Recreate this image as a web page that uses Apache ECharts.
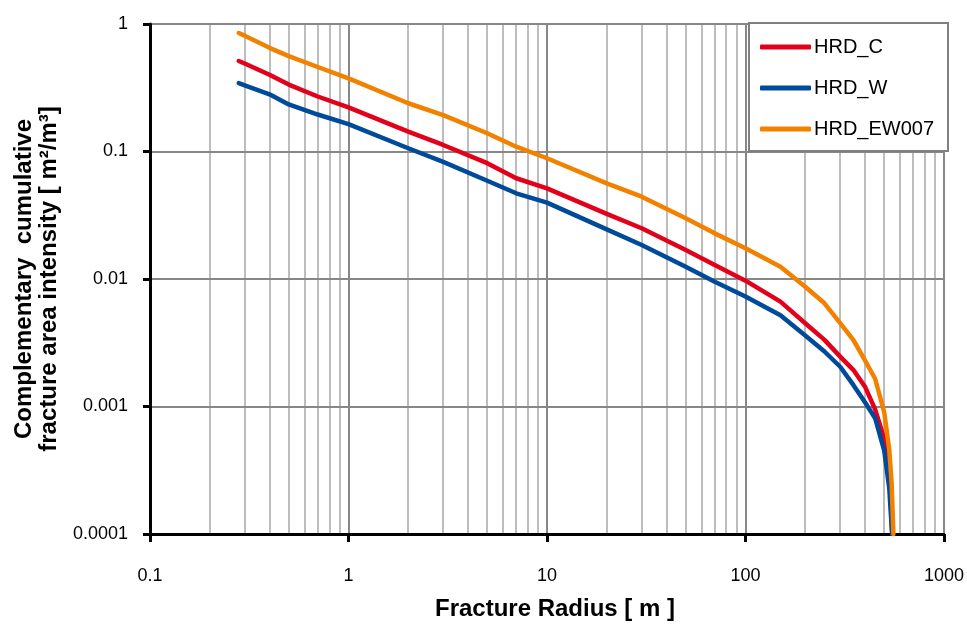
<!DOCTYPE html>
<html>
<head>
<meta charset="utf-8">
<title>Complementary cumulative fracture area intensity</title>
<script src="https://cdn.jsdelivr.net/npm/echarts@6/dist/echarts.min.js"></script>
<style>
  html, body { margin: 0; padding: 0; background: #ffffff; }
  #chart { width: 967px; height: 626px; }
</style>
</head>
<body>
<div id="chart"></div>
<script>
// Fracture radius [m] and complementary cumulative fracture area intensity [m2/m3]
const radiusC = [0.28, 0.3, 0.4, 0.5, 0.7, 1, 2, 3, 5, 7, 10, 20, 30, 50, 70, 100, 150, 200, 250, 300, 350, 400, 450, 500, 530, 549];
const intensityC = [0.513, 0.49, 0.40, 0.335, 0.27, 0.222, 0.143, 0.1125, 0.081, 0.0617, 0.0514, 0.0324, 0.025, 0.0169, 0.0129, 0.0097, 0.00664, 0.0045, 0.00333, 0.00246, 0.00193, 0.00143, 0.00095, 0.00056, 0.00032, 0.0001];

const radiusW = [0.28, 0.3, 0.4, 0.5, 0.7, 1, 2, 3, 5, 7, 10, 20, 30, 50, 70, 100, 150, 200, 250, 300, 350, 400, 450, 500, 530, 548];
const intensityW = [0.344, 0.33, 0.281, 0.234, 0.195, 0.164, 0.106, 0.083, 0.059, 0.047, 0.0397, 0.0245, 0.0185, 0.0125, 0.0095, 0.0073, 0.0052, 0.0036, 0.0027, 0.00205, 0.00147, 0.00108, 0.00081, 0.00045, 0.00023, 0.0001];

const radiusEW = [0.28, 0.3, 0.4, 0.5, 0.7, 1, 2, 3, 5, 7, 10, 20, 30, 50, 70, 100, 150, 200, 250, 300, 350, 400, 450, 500, 530, 545, 556];
const intensityEW = [0.85, 0.81, 0.65, 0.56, 0.46, 0.375, 0.239, 0.193, 0.139, 0.109, 0.0885, 0.0563, 0.0442, 0.0299, 0.0228, 0.0174, 0.0125, 0.0087, 0.00645, 0.0045, 0.00332, 0.0023, 0.00165, 0.0009, 0.00046, 0.00025, 0.0001];

const seriesNames = ['HRD_C', 'HRD_W', 'HRD_EW007'];
const seriesColors = ['#e3001b', '#004a9c', '#f28100'];

const xTickLabels = ['0.1', '1', '10', '100', '1000'];
const yTickLabels = ['0.0001', '0.001', '0.01', '0.1', '1'];

// light vertical grid lines between the decades
const minorGridRadius = [0.2, 0.3, 0.4, 0.5, 0.6, 0.7, 0.8, 0.9,
  2, 3, 4, 5, 6, 7, 8, 9,
  20, 30, 40, 50, 60, 70, 80, 90,
  200, 300, 400, 500, 600, 700, 800, 900];

const FONT = '"Liberation Sans", Arial, sans-serif';
const pairs = (xs, ys) => xs.map((x, i) => [x, ys[i]]);
const curves = [pairs(radiusC, intensityC), pairs(radiusW, intensityW), pairs(radiusEW, intensityEW)];

const chart = echarts.init(document.getElementById('chart'), null, { renderer: 'canvas' });

const lineSeries = seriesNames.map((name, i) => ({
  name: name,
  type: 'line',
  data: curves[i],
  z: 3,
  symbol: 'none',
  showSymbol: false,
  smooth: false,
  color: seriesColors[i],
  lineStyle: { color: seriesColors[i], width: 4.5, cap: 'round', join: 'round' }
}));

const axisLineStyle = { color: '#000000', width: 3 };
const majorGrid = { show: true, lineStyle: { color: '#878787', width: 2 } };

chart.setOption({
  animation: false,
  backgroundColor: '#ffffff',
  textStyle: { fontFamily: FONT },
  grid: { left: 150, right: 19, top: 24, bottom: 92, containLabel: false },
  xAxis: {
    type: 'log',
    logBase: 10,
    min: 0.1,
    max: 1000,
    z: 2,
    name: 'Fracture Radius [ m ]',
    nameLocation: 'middle',
    nameGap: 63,
    nameTextStyle: { fontFamily: FONT, fontSize: 24, fontWeight: 'bold', color: '#000000', padding: [0, 0, 0, 16] },
    axisLine: { show: true, lineStyle: axisLineStyle },
    axisTick: { show: true, length: 8, lineStyle: axisLineStyle },
    axisLabel: {
      margin: 33,
      fontFamily: FONT,
      fontSize: 18,
      color: '#000000',
      formatter: (v, idx) => xTickLabels[idx] !== undefined ? xTickLabels[idx] : String(v)
    },
    splitLine: majorGrid
  },
  yAxis: {
    type: 'log',
    logBase: 10,
    min: 0.0001,
    max: 1,
    z: 2,
    name: 'Complementary  cumulative\nfracture area intensity [ m\u00b2/m\u00b3]',
    nameLocation: 'middle',
    nameGap: 88,
    nameTextStyle: { fontFamily: FONT, fontSize: 24, fontWeight: 'bold', color: '#000000', lineHeight: 25, align: 'center' },
    axisLine: { show: true, lineStyle: axisLineStyle },
    axisTick: { show: true, length: 7, lineStyle: axisLineStyle },
    axisLabel: {
      margin: 22,
      fontFamily: FONT,
      fontSize: 18,
      color: '#000000',
      formatter: (v, idx) => yTickLabels[idx] !== undefined ? yTickLabels[idx] : String(v)
    },
    splitLine: majorGrid
  },
  graphic: [{
    type: 'rect',
    z: 10,
    silent: true,
    shape: { x: 749, y: 23, width: 199, height: 128 },
    style: { fill: '#ffffff', stroke: '#808080', lineWidth: 2 }
  }],
  legend: {
    data: seriesNames.map((name, i) => ({ name: name, icon: 'roundRect', itemStyle: { color: seriesColors[i] } })),
    orient: 'vertical',
    left: 760,
    top: 37,
    z: 11,
    padding: 0,
    itemWidth: 51,
    itemHeight: 5,
    itemGap: 21,
    textStyle: { fontFamily: FONT, fontSize: 20, color: '#000000', padding: [0, 0, 0, -2] }
  },
  series: [{
    name: 'minor-grid',
    type: 'line',
    data: [],
    silent: true,
    z: 1,
    markLine: {
      silent: true,
      z: 1,
      symbol: 'none',
      label: { show: false },
      emphasis: { disabled: true },
      lineStyle: { color: '#bdbdbd', width: 2, type: 'solid' },
      data: minorGridRadius.map(v => ({ xAxis: v }))
    }
  }].concat(lineSeries)
});
</script>
</body>
</html>
